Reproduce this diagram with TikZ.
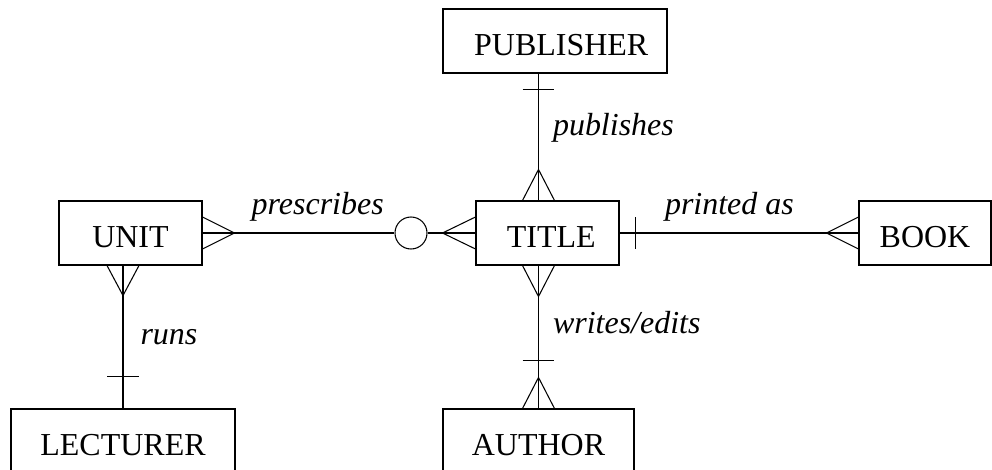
\documentclass[tikz,border=0pt]{standalone}
\usepackage{fontspec}
\setmainfont{Liberation Serif}
\usepackage{tikz}
\usetikzlibrary{positioning}
\tikzstyle{entity} = [draw=black, rectangle, minimum height=1.28cm, inner sep=0,
 text centered, text height=0.6cm, text depth=0pt, font=\fontsize{18.2}{22}\selectfont]
\tikzstyle{rel-label} = [inner sep=0, font=\fontsize{18.2}{22}\selectfont\itshape]
\tikzstyle{optional} = [draw=black, circle, minimum size=0.64cm, inner sep=0]
\newcommand{\ManyV}[2]{%
    \draw ([xshift=-0.32cm]#1) -- ([yshift=#2]#1) -- ([xshift=0.32cm]#1);
}
\newcommand{\ManyH}[2]{%
    \draw ([yshift=-0.32cm]#1) -- ([xshift=#2]#1) -- ([yshift=0.32cm]#1);
}
\newcommand{\OneV}[2]{%
    \draw ([xshift=-0.32cm,yshift=#2]#1) -- ([xshift=0.32cm,yshift=#2]#1);
}
\newcommand{\OneH}[2]{%
    \draw ([xshift=#2,yshift=-0.32cm]#1) -- ([xshift=#2,yshift=0.32cm]#1);
}
\begin{document}
\begin{tikzpicture}[x=0.02cm, y=-0.02cm, line width=0.6pt]
\clip (0,0) rectangle (992,470);

\node (TITLE) [entity, minimum width=2.86cm] at (547.5,233) {\hspace{0.15cm}TITLE};
\node (UNIT) [entity, minimum width=2.86cm] at (130.5,233) {UNIT};
\node (PUBLISHER) [entity, minimum width=4.48cm] at (555,41) {\hspace{0.25cm}PUBLISHER};
\node (BOOK) [entity, minimum width=2.64cm] at (925,233) {BOOK\hspace{0.2cm}};
\node (LECTURER) [entity, minimum width=4.48cm] at (123,441) {LECTURER};
\node (AUTHOR) [entity, minimum width=3.82cm] at (538.5,441) {AUTHOR};

\node (OPTIONAL) [optional] at (411,233) {};

\coordinate (TITLE_TOP) at (AUTHOR.north |- TITLE.north);
\coordinate (TITLE_BOTTOM) at (AUTHOR.north |- TITLE.south);
\coordinate (PUBLISHER_BOTTOM) at (AUTHOR.north |- PUBLISHER.south);
\coordinate (UNIT_BOTTOM) at (LECTURER.north |- UNIT.south);

% Relationships
\draw (UNIT.east) -- node[rel-label, pos=0.6, above=0.22cm] {prescribes} (OPTIONAL.west);
\draw (OPTIONAL.east) -- (TITLE.west);
\draw (TITLE.east) -- node[rel-label, pos=0.46, above=0.22cm] {printed as} (BOOK.west);
\draw (PUBLISHER_BOTTOM) -- node[rel-label, pos=0.43, right=0.28cm] {publishes} (TITLE_TOP);
\draw (TITLE_BOTTOM) -- node[rel-label, pos=0.4, right=0.28cm] {writes/edits} (AUTHOR.north);
\draw (UNIT_BOTTOM) -- node[rel-label, pos=0.5, right=0.34cm] {runs} (LECTURER.north);

% Crow's feet
\ManyH{UNIT.east}{0.64cm}
\ManyH{TITLE.west}{-0.66cm}
\ManyH{BOOK.west}{-0.64cm}
\ManyV{TITLE_TOP}{0.62cm}
\ManyV{TITLE_BOTTOM}{-0.62cm}
\ManyV{AUTHOR.north}{0.62cm}
\ManyV{UNIT_BOTTOM}{-0.60cm}

% Single bars
\OneV{PUBLISHER_BOTTOM}{-0.32cm}
\OneV{AUTHOR.north}{0.96cm}
\OneV{LECTURER.north}{0.64cm}
\OneH{TITLE.east}{0.32cm}

\end{tikzpicture}
\end{document}
